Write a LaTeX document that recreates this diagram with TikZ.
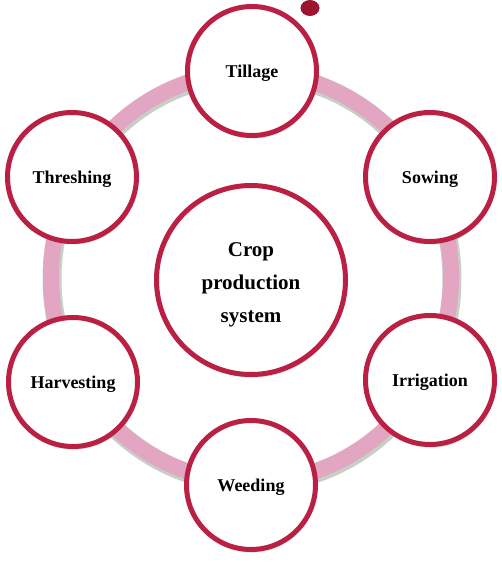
\documentclass[tikz,border=0pt]{standalone}
\usepackage{fontspec}
\setmainfont{Liberation Serif}
\usetikzlibrary{shadows}

\definecolor{cropred}{RGB}{186,32,68}
\definecolor{ringpink}{RGB}{226,166,194}
\definecolor{dotred}{RGB}{155,21,48}
\definecolor{shadegray}{RGB}{160,178,160}

\begin{document}
\begin{tikzpicture}[x=1pt, y=-1pt,
	stage/.style={circle, minimum size=129pt, line width=5pt, draw=cropred, fill=white,
		font=\bfseries\fontsize{18}{20}\selectfont, text depth=0pt,
		drop shadow={shadow xshift=1pt, shadow yshift=-3pt, opacity=0.45, fill=shadegray}},
	hub/.style={stage, minimum size=189pt}]
				\useasboundingbox (0,0) rectangle (502,563);
				% ring behind the stages
				\draw[shadegray!60, line width=19pt] (252,279) ellipse (200 and 205);
				\draw[ringpink, line width=16pt] (251,277) ellipse (200 and 205);
				\fill[dotred] (310,8) ellipse (9.5 and 8);
				\node[hub, label={[align=center, yshift=-5pt,
					font=\bfseries\fontsize{21}{33}\selectfont]center:Crop\\production\\system}] (0) at(251,280){};
				\node[stage] (1) at(252,71){Tillage};
				\node[stage] (2) at(430,177){Sowing};
				\node[stage] (3) at(430,380){Irrigation};
				\node[stage] (4) at(251,485){Weeding};
				\node[stage] (5) at(73,382){Harvesting};
				\node[stage] (6) at(72,177){Threshing};
			\end{tikzpicture}
\end{document}
